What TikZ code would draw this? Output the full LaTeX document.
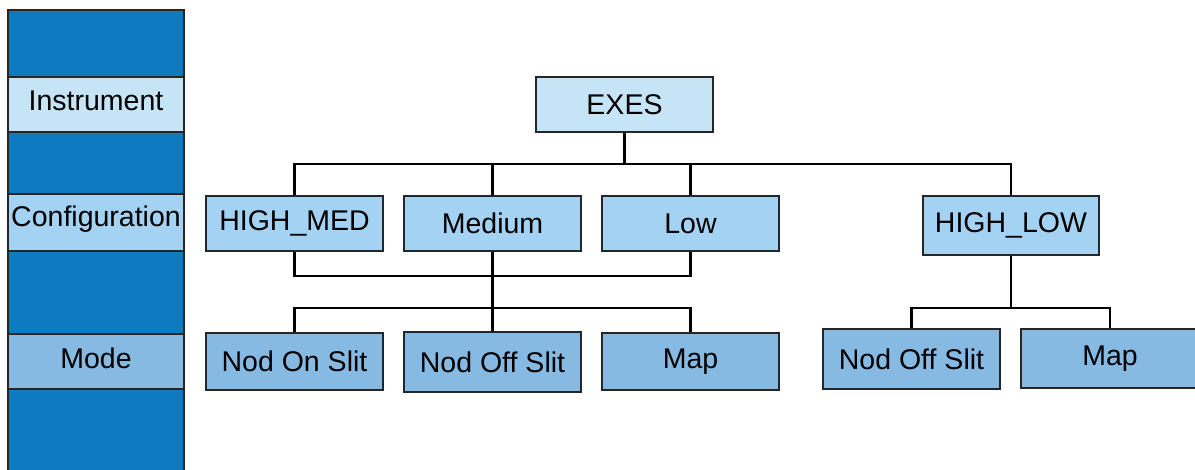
\documentclass[tikz,border=0pt]{standalone}
\usepackage{fontspec}
\setmainfont{Liberation Sans}
\definecolor{bandblue}{HTML}{0E7BC0}
\definecolor{instblue}{HTML}{C5E4F6}
\definecolor{confblue}{HTML}{A3D2F2}
\definecolor{modeblue}{HTML}{87BAE2}
\tikzset{
  level/.style={draw=black!85, line width=2pt, inner sep=0pt, minimum width=177pt, font=\fontsize{28.5}{32}\selectfont},
  instbox/.style={level, fill=instblue, minimum height=55pt},
  confbox/.style={level, fill=confblue, minimum height=55pt},
  modebox/.style={level, fill=modeblue, minimum height=57pt},
  link/.style={draw=black, line width=2.2pt}
}
\begin{document}
\begin{tikzpicture}[x=1pt,y=-1pt]
            \useasboundingbox (0,0) rectangle (1195,470);
            % left column
            \path[draw=black!85, line width=2pt, fill=bandblue] (8,10) rectangle (184,475);
            \path[draw=black!85, line width=2pt, fill=instblue] (8,77) rectangle (184,132);
            \path[draw=black!85, line width=2pt, fill=confblue] (8,194) rectangle (184,251);
            \path[draw=black!85, line width=2pt, fill=modeblue] (8,334) rectangle (184,389);
            \node[font=\fontsize{28.5}{32}\selectfont] (instlabel) at (96,101) {Instrument};
            \node[font=\fontsize{28.5}{32}\selectfont] (conflabel) at (96,219) {Configuration};
            \node[font=\fontsize{28.5}{32}\selectfont] (modelabel) at (96,358) {Mode};

            % instrument
            \node[instbox] (exes) at (624.5,104.5) {EXES};

            % configurations
            \node[confbox] (himed) at (294.5,223.5) {HIGH\_MED};
            \node[confbox] (medium) at (492.5,223.5) {Medium};
            \node[confbox] (low) at (690.5,223.5) {Low};
            \node[confbox, minimum width=176pt, minimum height=59pt] (hilow) at (1011,225.5) {HIGH\_LOW};

            % modes
            \node[modebox] (nodon) at (294.5,361.5) {Nod On Slit};
            \node[modebox, minimum height=60pt] (nodoff) at (492.5,362) {Nod Off Slit};
            \node[modebox] (map) at (690.5,361.5) {Map};
            \node[modebox, minimum height=60pt] (hlnodoff) at (911.5,359) {Nod Off Slit};
            \node[modebox, minimum width=178pt, minimum height=59pt] (hlmap) at (1110,358.5) {Map};

            % connectors
            \coordinate (topsplit) at (624.5,164);
            \coordinate (medjoin) at (492.5,276);
            \coordinate (medsplit) at (492.5,308);
            \coordinate (hlsplit) at (1011,308);

            \path[link] (exes.south) -- (topsplit);
            \path[link] (himed.north) |- (topsplit) -| (hilow.north);
            \path[link] (medium.north) -- (medium.north |- topsplit);
            \path[link] (low.north) -- (low.north |- topsplit);

            \path[link] (himed.south) |- (medjoin) -| (low.south);
            \path[link] (medium.south) -- (medsplit);
            \path[link] (nodon.north) |- (medsplit) -| (map.north);
            \path[link] (nodoff.north) -- (medsplit);

            \path[link] (hilow.south) -- (hlsplit);
            \path[link] (hlnodoff.north) |- (hlsplit) -| (hlmap.north);
        \end{tikzpicture}
\end{document}
